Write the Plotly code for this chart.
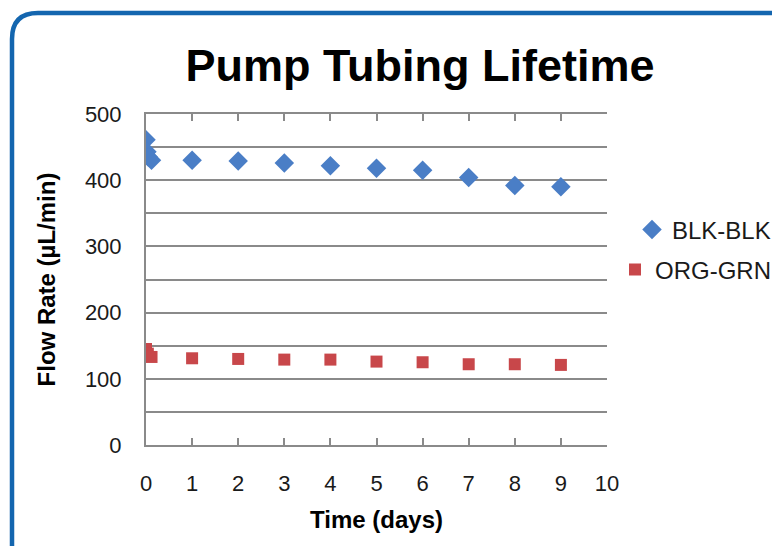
import plotly.graph_objects as go

# Data
blk_days = [0, 0.02, 0.05, 0.12, 1, 2, 3, 4, 5, 6, 7, 8, 9]
blk_flow = [461, 443, 435, 430, 430, 429, 426, 422, 418, 415, 404, 392, 390]
org_days = [0, 0.04, 0.12, 1, 2, 3, 4, 5, 6, 7, 8, 9]
org_flow = [145, 138, 133, 131, 130, 129, 129, 126, 125, 122, 122, 121]

x_ticks = list(range(0, 11))
y_ticks = [0, 100, 200, 300, 400, 500]

W, H = 780, 546
OFF = 8  # page offset of the figure (body margin)
# plot area in page pixels
PX0, PX1, PY0, PY1 = 146, 607, 114, 445
ML = PX0 - OFF
MT = PY0 - OFF
MR = W - (PX1 - OFF)
MB = H - (PY1 - OFF)
PW = PX1 - PX0
PH = PY1 - PY0

def px(x):  # page x -> paper
    return (x - PX0) / PW

def py(y):  # page y -> paper
    return (PY1 - y) / PH

FONT = "Liberation Sans, Arial, sans-serif"
GRID = "#8a8a8a"

fig = go.Figure()
fig.add_trace(go.Scatter(
    x=blk_days, y=blk_flow, mode="markers", name="BLK-BLK", legend="legend",
    marker=dict(symbol="diamond", size=15, color="#4A7EC6", line=dict(width=0)),
))
fig.add_trace(go.Scatter(
    x=org_days, y=org_flow, mode="markers", name="ORG-GRN", legend="legend2",
    marker=dict(symbol="square", size=12, color="#C8474A", line=dict(width=0)),
))

# rounded blue frame (page coords)
r = 26
L, T = 12, 13
Rx, Bx = W + 30, H + 30
path = (f"M {px(L)},{py(Bx)} L {px(L)},{py(T + r)} "
        f"Q {px(L)},{py(T)} {px(L + r)},{py(T)} L {px(Rx)},{py(T)}")

leg_common = dict(xanchor="right", yanchor="middle", itemwidth=30,
                  font=dict(size=24, color="#1a1a1a"), bgcolor="rgba(0,0,0,0)")

fig.update_layout(
    width=W, height=H,
    margin=dict(l=ML, r=MR, t=MT, b=MB),
    paper_bgcolor="white", plot_bgcolor="white",
    font=dict(family=FONT, color="#1a1a1a"),
    title=dict(text="<b>Pump Tubing Lifetime</b>", x=(420 - OFF) / W, xanchor="center",
               y=1 - (65 - OFF) / H, yanchor="middle",
               font=dict(size=45, color="black", family=FONT)),
    showlegend=True,
    legend=dict(x=px(776), y=py(230), **leg_common),
    legend2=dict(x=px(776), y=py(270), **leg_common),
    xaxis=dict(range=[0, 10], tickvals=x_ticks, ticktext=[str(v) for v in x_ticks],
               showgrid=False, zeroline=False, showline=True, linecolor=GRID, linewidth=2,
               ticks="inside", ticklen=7, tickwidth=2, tickcolor=GRID, mirror="ticks",
               tickfont=dict(size=22, color="#1a1a1a"), ticklabelstandoff=18,
               title=dict(text="<b>Time (days)</b>", font=dict(size=24, color="black"),
                          standoff=16)),
    yaxis=dict(range=[0, 500], tickvals=y_ticks, ticktext=[str(v) for v in y_ticks],
               showgrid=True, gridcolor=GRID, gridwidth=2,
               minor=dict(dtick=50, showgrid=True, gridcolor=GRID, gridwidth=2),
               zeroline=False, showline=True, linecolor=GRID, linewidth=2,
               ticks="", tickfont=dict(size=22, color="#1a1a1a"), ticklabelstandoff=18,
               title=dict(text="<b>Flow Rate (µL/min)</b>", font=dict(size=24, color="black"),
                          standoff=22)),
    shapes=[dict(type="path", path=path, xref="paper", yref="paper",
                 line=dict(color="#1466AF", width=4.5), layer="above")],
)

fig.write_html("out.html")
